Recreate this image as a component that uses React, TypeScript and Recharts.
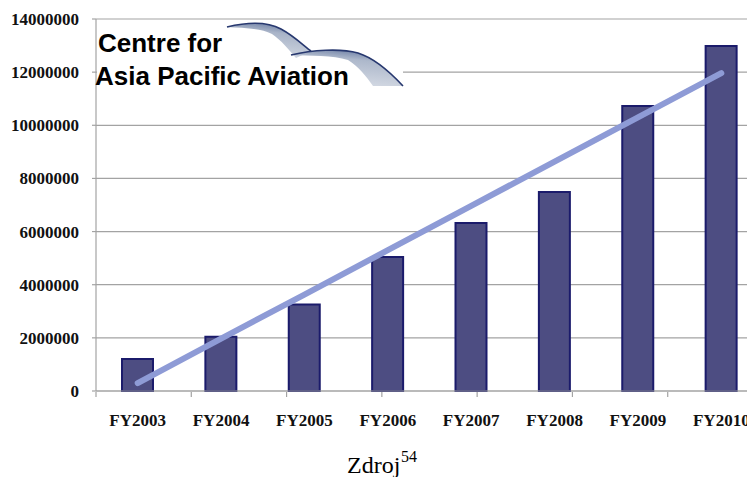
import React from 'react';
import { ComposedChart, Bar, Line, XAxis, YAxis, CartesianGrid } from 'recharts';

// Fiscal years on the category axis
const years = ['FY2003', 'FY2004', 'FY2005', 'FY2006', 'FY2007', 'FY2008', 'FY2009', 'FY2010'];
// Yearly totals drawn as bars
const passengers = [1200000, 2040000, 3260000, 5040000, 6320000, 7490000, 10730000, 12980000];
// Linear trend line over the bars
const trend = [300000, 1970000, 3630000, 5300000, 6970000, 8630000, 10300000, 11960000];
// Value axis ticks
const yTicks = [0, 2000000, 4000000, 6000000, 8000000, 10000000, 12000000, 14000000];
// Category boundaries where the x-axis tick marks sit
const bandEdges = [0, 1, 2, 3, 4, 5, 6, 7, 8];

const data = years.map((year, i) => ({ year, passengers: passengers[i], trend: trend[i] }));

const AXIS_GRAY = '#a3a3a3';
const tickFont = {
  fontFamily: '"Liberation Serif", "Times New Roman", serif',
  fontWeight: 700,
  fontSize: 17,
  fill: '#111',
};

// Edge axis shows only its tick lines, no labels
const EmptyTick = () => <g />;

function Logo() {
  return (
    <svg
      width={747}
      height={477}
      style={{ position: 'absolute', left: 0, top: 0, pointerEvents: 'none' }}
    >
      <defs>
        <linearGradient id="ribbonA" x1="0.6" y1="0" x2="0.3" y2="1">
          <stop offset="0" stopColor="#6d7fa5" />
          <stop offset="0.25" stopColor="#a9b4c8" />
          <stop offset="1" stopColor="#d6dce5" />
        </linearGradient>
        <linearGradient id="ribbonB" x1="0.6" y1="0" x2="0.3" y2="1">
          <stop offset="0" stopColor="#6d7fa5" />
          <stop offset="0.25" stopColor="#adb8cb" />
          <stop offset="1" stopColor="#d8dde6" />
        </linearGradient>
      </defs>
      <rect x={97} y={32} width={306} height={55} fill="#fff" />
      <path
        d="M227,27 C248,22 268,22 281,29 C294,36 304,46 311,51 L296,58 C289,50 281,40 272,34 C260,28 243,28 227,27 Z"
        fill="url(#ribbonA)"
      />
      <path
        d="M227,27 C248,22 268,22 281,29 C294,36 304,46 311,51"
        fill="none"
        stroke="#27386f"
        strokeWidth={1.6}
      />
      <path
        d="M291,55 C312,50 340,48 358,53 C374,58 390,72 403,86 L373,86 C366,76 358,66 348,60 C333,55 310,56 291,55 Z"
        fill="url(#ribbonB)"
      />
      <path
        d="M291,55 C312,50 340,48 358,53 C374,58 390,72 403,86"
        fill="none"
        stroke="#27386f"
        strokeWidth={1.6}
      />
      <g
        fontFamily='"Liberation Sans", Arial, sans-serif'
        fontWeight={700}
        fontSize={26}
        fill="#000"
      >
        <text x={98} y={52}>Centre for</text>
        <text x={95} y={85}>Asia Pacific Aviation</text>
      </g>
      <g fontFamily='"Liberation Serif", "Times New Roman", serif' fill="#000">
        <text x={347} y={473} fontSize={24}>Zdroj</text>
        <text x={401} y={462} fontSize={16}>54</text>
      </g>
    </svg>
  );
}

export default function App() {
  return (
    <div
      style={{
        position: 'absolute',
        left: 0,
        top: 0,
        width: 747,
        height: 477,
        overflow: 'hidden',
        background: '#fff',
      }}
    >
      <ComposedChart
        width={780}
        height={477}
        data={data}
        margin={{ top: 19, right: 17, left: 0, bottom: 75 }}
      >
        <CartesianGrid horizontal vertical={false} stroke={AXIS_GRAY} strokeWidth={1.2} />
        <XAxis
          dataKey="year"
          interval={0}
          axisLine={{ stroke: AXIS_GRAY, strokeWidth: 1.2 }}
          tickLine={false}
          tickSize={0}
          tickMargin={23}
          tick={tickFont}
          height={1}
        />
        <XAxis
          xAxisId="edges"
          type="number"
          domain={[0, 8]}
          ticks={bandEdges}
          tick={EmptyTick}
          tickSize={5}
          axisLine={false}
          tickLine={{ stroke: AXIS_GRAY, strokeWidth: 1.2 }}
          height={10}
        />
        <YAxis
          domain={[0, 14000000]}
          ticks={yTicks}
          interval={0}
          width={96}
          tickSize={4}
          tickMargin={13}
          tick={tickFont}
          axisLine={{ stroke: AXIS_GRAY, strokeWidth: 1.2 }}
          tickLine={{ stroke: AXIS_GRAY, strokeWidth: 1.2 }}
        />
        <Bar
          dataKey="passengers"
          fill="#4d4d82"
          stroke="#1b1b6b"
          strokeWidth={2}
          barSize={31}
          isAnimationActive={false}
        />
        <Line
          type="linear"
          dataKey="trend"
          stroke="#8e9bd6"
          strokeWidth={6}
          strokeLinecap="round"
          dot={false}
          activeDot={false}
          isAnimationActive={false}
        />
      </ComposedChart>
      <Logo />
    </div>
  );
}
